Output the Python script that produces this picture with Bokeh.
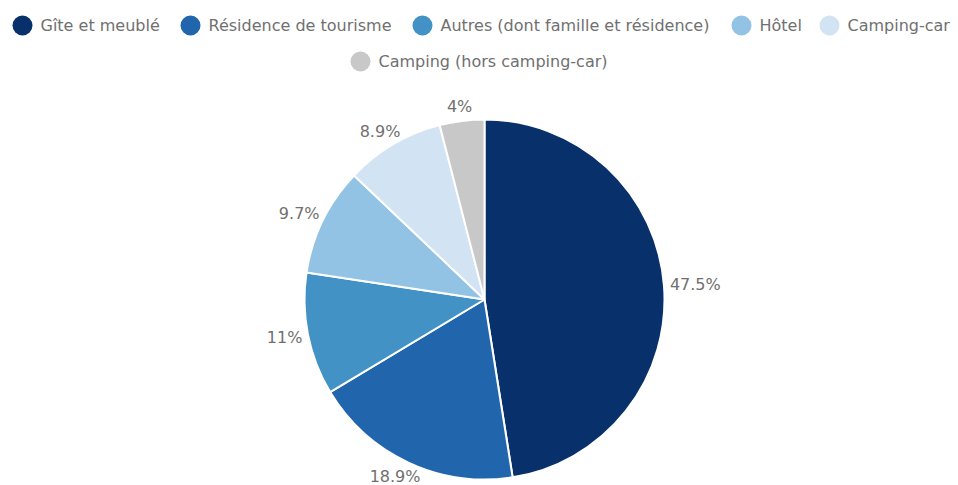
import math
from bokeh.plotting import figure
from bokeh.models import Range1d, ColumnDataSource
from bokeh.core.properties import value
from bokeh.embed import file_html
from bokeh.resources import INLINE

# ---- data ----
categories = ["Gîte et meublé", "Résidence de tourisme", "Autres (dont famille et résidence)",
              "Hôtel", "Camping-car", "Camping (hors camping-car)"]
shares = [47.5, 18.9, 11, 9.7, 8.9, 4]
labels = ["47.5%", "18.9%", "11%", "9.7%", "8.9%", "4%"]
colors = ["#08306b", "#2166ac", "#4292c6", "#92c3e4", "#d2e4f3", "#c8c8c8"]

# ---- layout (screen-like coordinates, y negated) ----
W, H = 958, 485
cx, cy, R = 484, -299, 180
legend_x = [22, 190, 422, 741, 829, 360]
legend_y = [-25, -25, -25, -25, -25, -61]

p = figure(width=W, height=H, output_backend="svg", toolbar_location=None,
           x_range=Range1d(0, W), y_range=Range1d(-H, 0),
           x_axis_type=None, y_axis_type=None, min_border=0)
p.grid.visible = False
p.outline_line_color = None
p.background_fill_color = "white"
p.border_fill_color = "white"

total = sum(shares)
starts, ends, mids = [], [], []
acc = 0.0
for s in shares:
    a0 = math.pi / 2 - 2 * math.pi * acc / total
    acc += s
    a1 = math.pi / 2 - 2 * math.pi * acc / total
    starts.append(a0)
    ends.append(a1)
    mids.append((a0 + a1) / 2)

src = ColumnDataSource(dict(start=starts, end=ends, color=colors, cat=categories))
p.wedge(x=cx, y=cy, radius=R, start_angle="start", end_angle="end", direction="clock",
        fill_color="color", line_color="white", line_width=2, source=src)

# label positions just outside the pie
cw = {".": 5.1, "%": 15.2}
lx, ly = [], []
for lab, m in zip(labels, mids):
    w = sum(cw.get(c, 10.2) for c in lab)
    ax = cx + (R + 6) * math.cos(m)
    ay = cy + (R + 6) * math.sin(m)
    lx.append(ax + math.cos(m) * w / 2)
    ly.append(ay + math.sin(m) * 9)
p.text(x=lx, y=ly, text=labels, text_align="center", text_baseline="middle",
       text_font=value("DejaVu Sans"), text_font_size="16px", text_color="#707070")

# legend
p.scatter(x=legend_x, y=legend_y, size=20, marker="circle", fill_color=colors, line_color=None)
p.text(x=[x + 18 for x in legend_x], y=legend_y, text=categories, text_align="left",
       text_baseline="middle", text_font=value("DejaVu Sans"), text_font_size="16px",
       text_color="#707070")

open("out.html", "w").write(file_html(p, INLINE))
